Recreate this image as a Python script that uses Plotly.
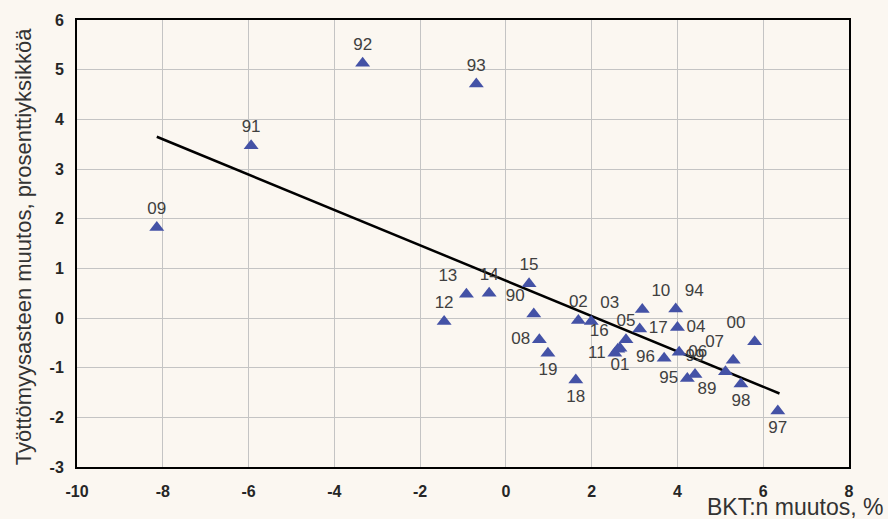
import plotly.graph_objects as go

# Data
years = ["89", "90", "91", "92", "93", "94", "95", "96", "97", "98", "99",
         "00", "01", "02", "03", "04", "05", "06", "07", "08", "09",
         "10", "11", "12", "13", "14", "15", "16", "17", "18", "19"]
gdp_change = [5.12, 0.65, -5.94, -3.34, -0.69, 3.96, 4.23, 3.69, 6.34, 5.48, 4.41,
              5.80, 2.66, 1.69, 1.99, 4.00, 2.80, 4.04, 5.30, 0.78, -8.14,
              3.18, 2.54, -1.44, -0.92, -0.39, 0.54, 2.61, 3.12, 1.63, 0.98]
unemp_change = [-1.08, 0.08, 3.47, 5.13, 4.71, 0.18, -1.22, -0.81, -1.87, -1.33, -1.14,
                -0.48, -0.61, -0.05, -0.07, -0.19, -0.44, -0.69, -0.85, -0.44, 1.82,
                0.17, -0.71, -0.07, 0.48, 0.50, 0.69, -0.63, -0.22, -1.25, -0.71]
trend_x = [-8.14, 6.38]
trend_y = [3.65, -1.52]
x_ticks = [-10, -8, -6, -4, -2, 0, 2, 4, 6, 8]
x_tick_labels = ["-10", "-8", "-6", "-4", "-2", "0", "2", "4", "6", "8"]
y_ticks = [-3, -2, -1, 0, 1, 2, 3, 4, 5, 6]
y_tick_labels = ["-3", "-2", "-1", "0", "1", "2", "3", "4", "5", "6"]

# label placement (style)
label_pos = {
    "89": "bottom left", "90": "top left", "91": "top center", "92": "top center",
    "93": "top center", "94": "top right", "95": "middle left", "96": "middle left",
    "97": "bottom center", "98": "bottom center", "99": "top center", "00": "top left",
    "01": "bottom center", "02": "top center", "03": "top right", "04": "middle right",
    "05": "top center", "06": "middle right", "07": "top left", "08": "middle left",
    "09": "top center", "10": "top right", "11": "middle left", "12": "top center",
    "13": "top left", "14": "top center", "15": "top center", "16": "top left",
    "17": "middle right", "18": "bottom center", "19": "bottom center",
}

BG = "#FBF7F1"
FONT = "Liberation Sans, Arial, sans-serif"

fig = go.Figure()
fig.add_trace(go.Scatter(
    x=trend_x, y=trend_y, mode="lines",
    line=dict(color="black", width=2.5), hoverinfo="skip", showlegend=False,
))
fig.add_trace(go.Scatter(
    x=gdp_change, y=unemp_change, mode="markers+text",
    text=years, textposition=[label_pos[y] for y in years],
    textfont=dict(family=FONT, size=17, color="#404040"),
    marker=dict(symbol="triangle-up", size=13, color="#4452A6"),
    showlegend=False,
))

axis_common = dict(
    showgrid=True, gridcolor="#C4C4C4", gridwidth=1.2,
    zeroline=False, showline=True, linecolor="black", linewidth=2, mirror=True,
    tickfont=dict(family=FONT, size=16, color="#262626", weight=700),
    ticks="",
)
fig.update_xaxes(range=[-10, 8], tickvals=x_ticks, ticktext=x_tick_labels,
                 ticklabelstandoff=9, **axis_common)
fig.update_yaxes(range=[-3, 6], tickvals=y_ticks, ticktext=y_tick_labels,
                 ticklabelstandoff=8, **axis_common)

fig.add_annotation(
    text="BKT:n muutos, %", xref="paper", yref="paper",
    x=1.047, y=-0.09, xanchor="right", yanchor="middle", showarrow=False,
    font=dict(family=FONT, size=23, color="#333333"),
)
fig.add_annotation(
    text="Työttömyysasteen muutos, prosenttiyksikköä", xref="paper", yref="paper",
    x=-0.070, y=0.494, xanchor="center", yanchor="middle", textangle=-90,
    showarrow=False, font=dict(family=FONT, size=22, color="#333333"),
)

fig.update_layout(
    width=888, height=519,
    margin=dict(l=77, r=39, t=20, b=52),
    paper_bgcolor=BG, plot_bgcolor=BG,
)
fig.write_html("out.html", config={"displayModeBar": False},
               post_script="document.body.style.margin='0px';document.body.style.background='%s';" % BG)
